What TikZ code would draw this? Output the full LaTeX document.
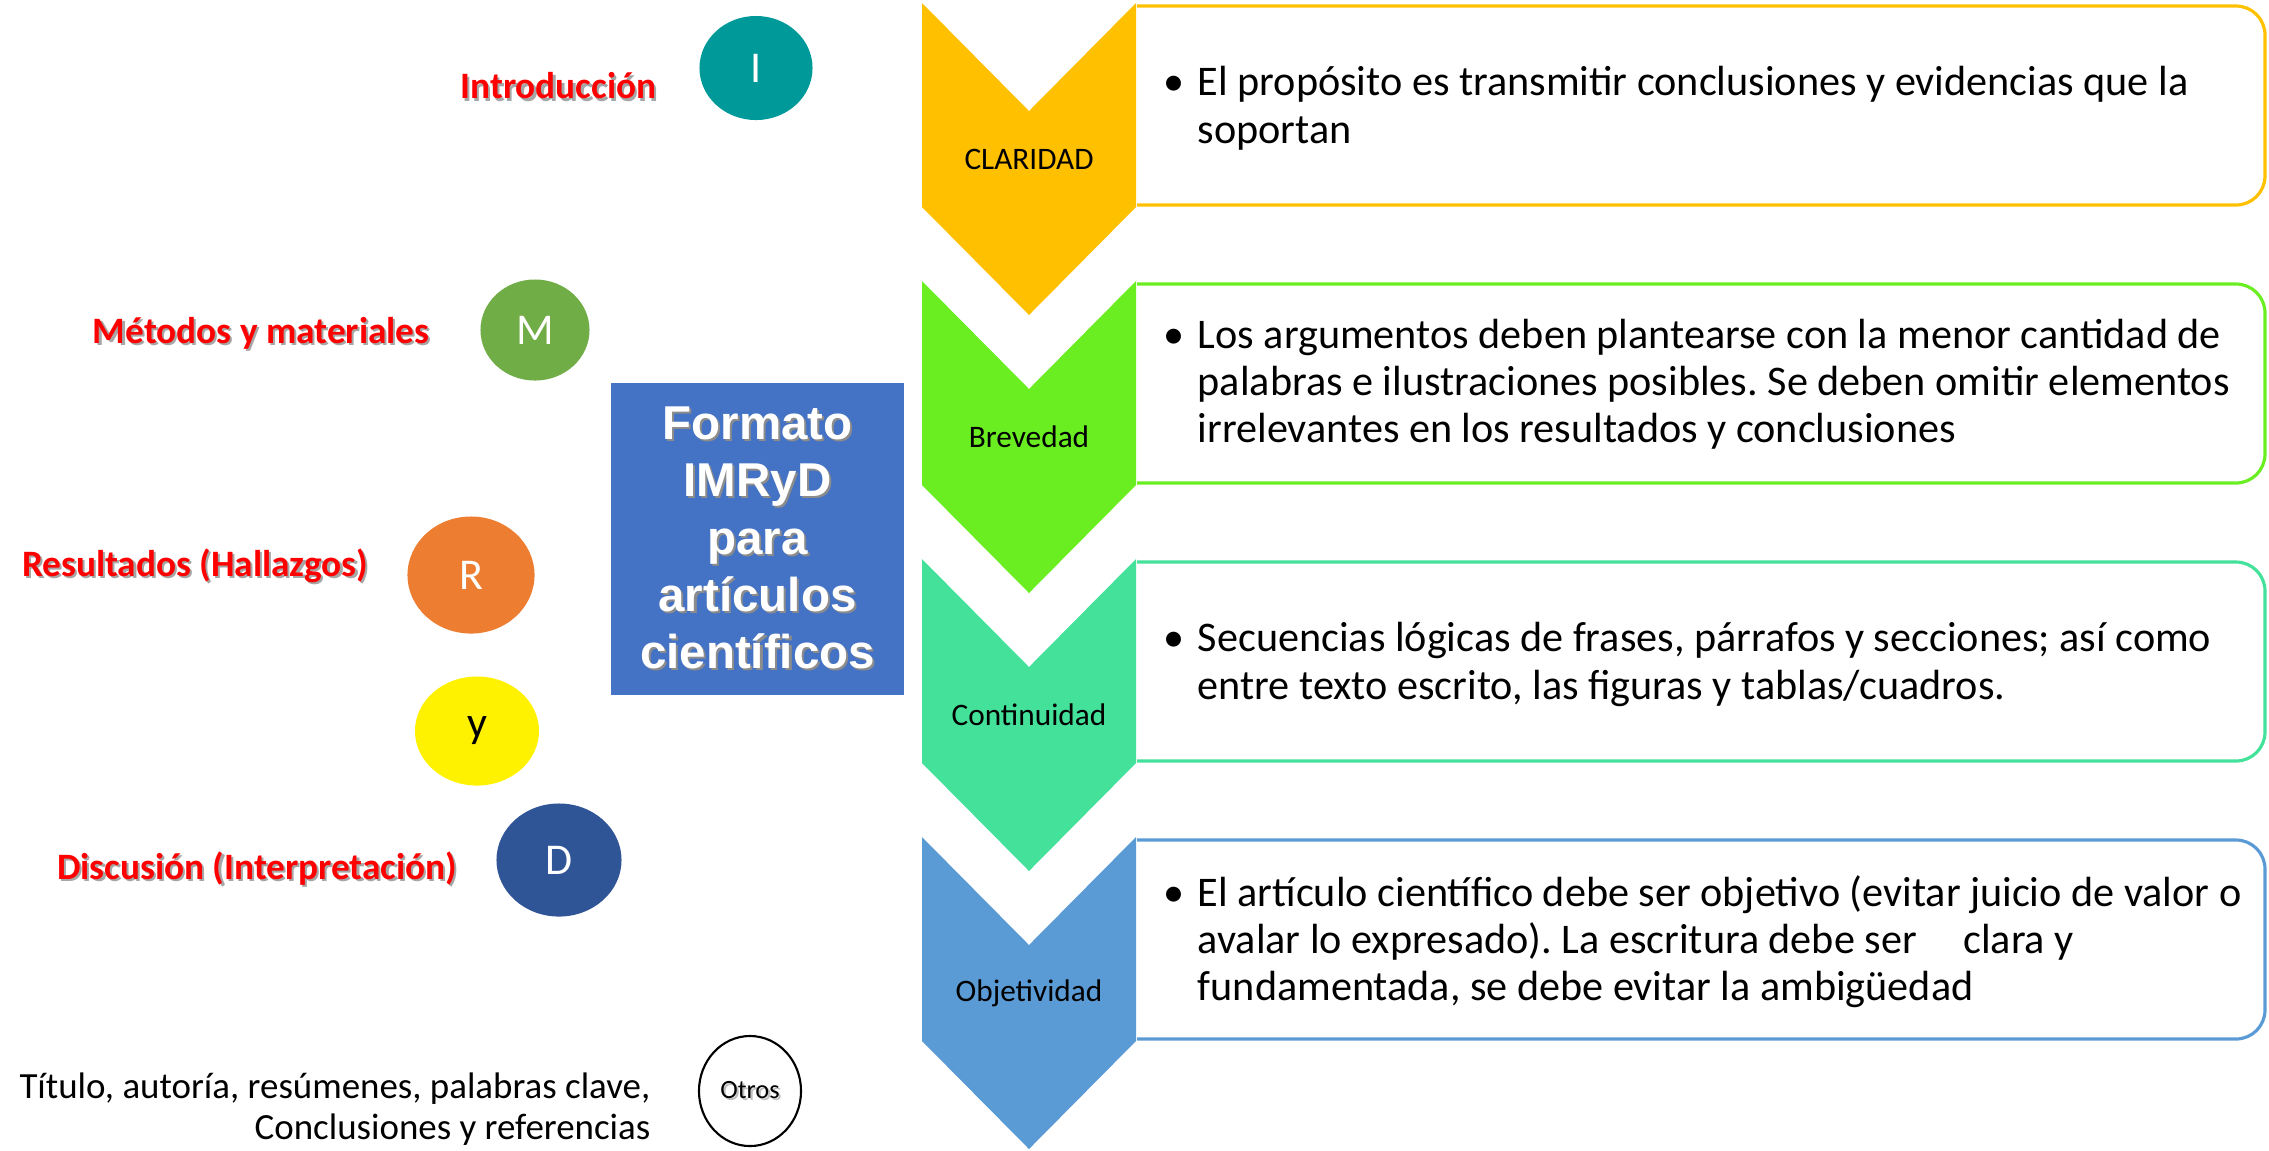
\documentclass[tikz,border=0pt]{standalone}
\usepackage{fontspec}
\setmainfont{Carlito}
\newfontfamily\arialfont{Liberation Sans}
\usetikzlibrary{calc,shapes.geometric}

\definecolor{clarColor}{HTML}{FFC000}
\definecolor{brevColor}{HTML}{6AEE22}
\definecolor{contColor}{HTML}{43E19A}
\definecolor{objeColor}{HTML}{5B9BD5}
\definecolor{introColor}{HTML}{009999}
\definecolor{metoColor}{HTML}{70AD47}
\definecolor{resuColor}{HTML}{ED7D31}
\definecolor{discColor}{HTML}{2F5597}
\definecolor{titleColor}{HTML}{4472C4}

\tikzset{
  stagebox/.style={line width=0.9pt, rounded corners=0.29cm},
  stagelabel/.style={font=\fontsize{8.9}{10}\selectfont, text=black},
  stagetext/.style={anchor=west, inner sep=0pt, font=\fontsize{12}{13.4}\selectfont},
  letter/.style={ellipse, inner sep=0pt, font=\fontsize{12.5}{14}\selectfont},
  partname/.style={anchor=east, inner sep=0pt, text=red, font=\fontsize{10.6}{12}\selectfont\bfseries}
}
\def\chevron[#1](#2){\fill[#1] (#2) -- ($(#2)+(107,108)$) -- ($(#2)+(214,0)$) -- ($(#2)+(214,204)$) -- ($(#2)+(107,312)$) -- ($(#2)+(0,204)$) -- cycle;}
\newcommand{\bul}[1]{\begin{tabular}{@{}p{9.7pt}@{}l@{}}\textbullet & #1\end{tabular}}
\newcommand{\shd}[2][black!35]{\makebox[0pt][l]{\hspace{0.6pt}\raisebox{-0.6pt}{\textcolor{#1}{#2}}}#2}

\begin{document}
\frenchspacing
\begin{tikzpicture}[x=0.01cm, y=-0.01cm]
			%%%%% START %%%%%
			\useasboundingbox (0,0) rectangle (2269,1150);
			
			% CLARIDAD
			\draw[stagebox, draw=clarColor] (1137,6) -- (2265,6) -- (2265,205) -- (1137,205);
			\chevron[clarColor](922,3)
			\node[stagelabel] (clar) at (1029,159) {CLARIDAD};
			\node[stagetext] (clartxt) at (1163,110) {\bul{El propósito es transmitir conclusiones y evidencias que la\\ & soportan}};
			
			% Brevedad
			\draw[stagebox, draw=brevColor] (1137,284) -- (2265,284) -- (2265,483) -- (1137,483);
			\chevron[brevColor](922,281)
			\node[stagelabel] (brev) at (1029,437) {Brevedad};
			\node[stagetext] (brevtxt) at (1163,386) {\bul{Los argumentos deben plantearse con la menor cantidad de\\ & palabras e ilustraciones posibles. Se deben omitir elementos\\ & irrelevantes en los resultados y conclusiones}};
			
			% Continuidad
			\draw[stagebox, draw=contColor] (1137,562) -- (2265,562) -- (2265,761) -- (1137,761);
			\chevron[contColor](922,559)
			\node[stagelabel] (cont) at (1029,715) {Continuidad};
			\node[stagetext] (conttxt) at (1163,666) {\bul{Secuencias lógicas de frases, párrafos y secciones; así como\\ & entre texto escrito, las figuras y tablas/cuadros.}};
			
			% Objetividad
			\draw[stagebox, draw=objeColor] (1137,840) -- (2265,840) -- (2265,1039) -- (1137,1039);
			\chevron[objeColor](922,837)
			\node[stagelabel] (obje) at (1029,993) {Objetividad};
			\node[stagetext] (objetxt) at (1163,944) {\bul{El artículo científico debe ser objetivo (evitar juicio de valor o\\ & avalar lo expresado). La escritura debe ser\hspace{1.1em}clara y\\ & fundamentada, se debe evitar la ambigüedad}};
			
			% titulo central
			\node[fill=titleColor, minimum width=2.93cm, minimum height=3.12cm, align=center, text=white,
			      font=\arialfont\fontsize{13.5}{16.3}\selectfont\bfseries] (imryd) at (757.5,539)
			      {\shd[black!45]{Formato}\\\shd[black!45]{IMRyD}\\\shd[black!45]{para}\\\shd[black!45]{artículos}\\\shd[black!45]{científicos}};
			
			% IMRyD
			\node[letter, fill=introColor, text=white, minimum width=1.13cm, minimum height=1.04cm] (intro) at (756,68) {I};
			\node[partname] (introname) at (657,87) {\shd{Introducción}};
			
			\node[letter, fill=metoColor, text=white, minimum width=1.09cm, minimum height=1.01cm] (meto) at (535,330) {M};
			\node[partname] (metoname) at (430,334) {\shd{Métodos y materiales}};
			
			\node[letter, fill=resuColor, text=white, minimum width=1.27cm, minimum height=1.17cm] (resu) at (471,575) {R};
			\node[partname] (resuname) at (369,567) {\shd{Resultados (Hallazgos)}};
			
			\node[letter, fill=yellow, text=black, minimum width=1.24cm, minimum height=1.09cm] (ylet) at (477,731) {y};
			
			\node[letter, fill=discColor, text=white, minimum width=1.25cm, minimum height=1.13cm] (disc) at (559,860) {D};
			\node[partname] (discname) at (458,870) {\shd{Discusión (Interpretación)}};
			
			% otros
			\node[ellipse, draw=black, line width=0.6pt, minimum width=1.02cm, minimum height=1.1cm, inner sep=0pt,
			      font=\fontsize{7.5}{9}\selectfont] (otros) at (750,1091) {\shd[black!25]{Otros}};
			\node[anchor=east, align=right, inner sep=0pt, font=\fontsize{10.5}{11.7}\selectfont] (otrosname) at (651,1109)
			      {Título, autoría, resúmenes, palabras clave,\\Conclusiones y referencias};
			
			%%%%% END %%%%%
\end{tikzpicture}
\end{document}
